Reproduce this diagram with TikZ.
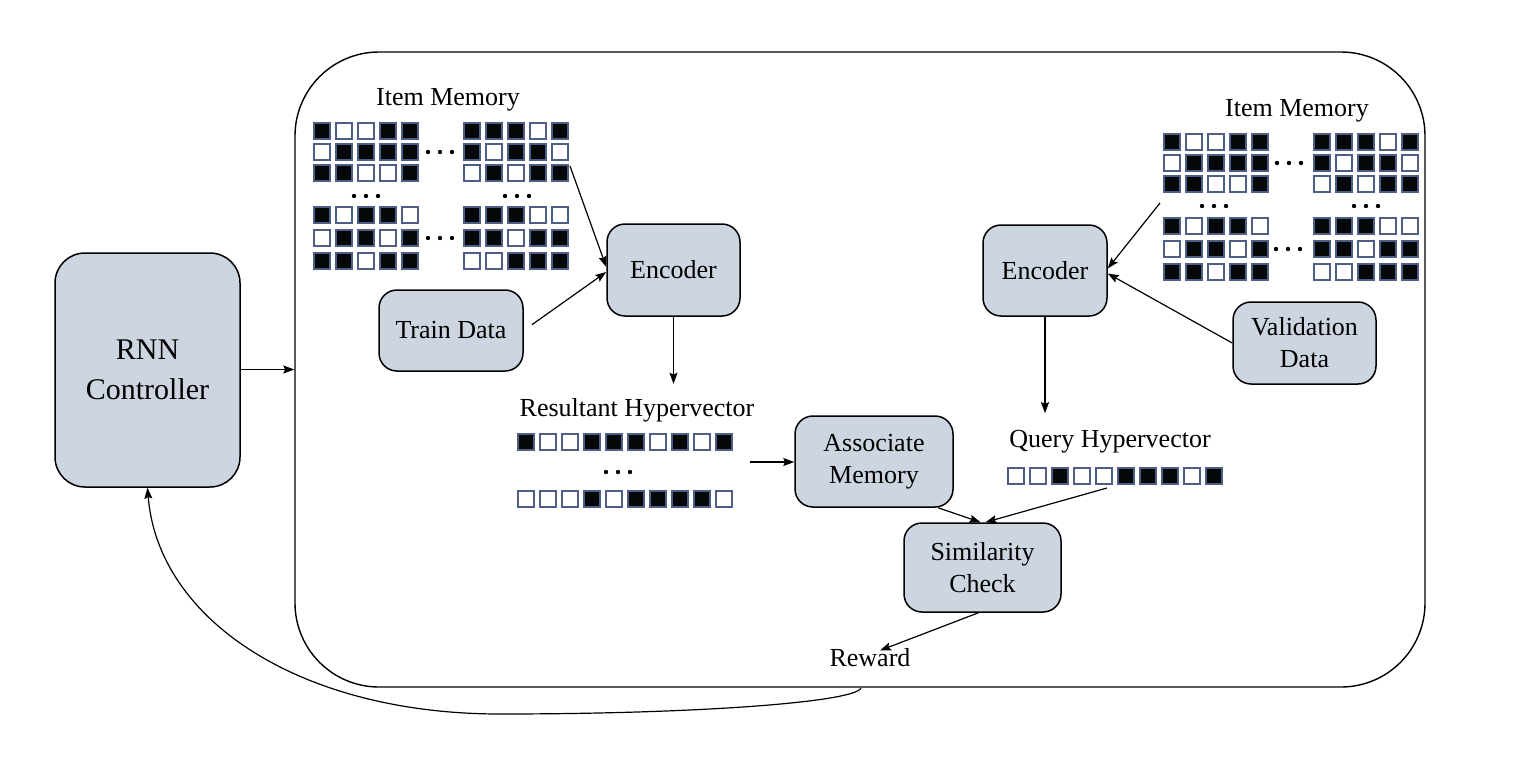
\documentclass[tikz,border=0pt]{standalone}
\usepackage{fontspec}
\setmainfont{Liberation Serif}
\usetikzlibrary{arrows.meta,calc}
\definecolor{boxfill}{RGB}{204,213,224}
\definecolor{celledge}{RGB}{78,94,134}
\definecolor{cellon}{RGB}{5,8,8}
\newcommand{\hvrow}[3]{%
  \foreach \b [count=\i from 0] in {#3} {
    \ifnum\b=1
      \path[cellstyle,fill=cellon] ({#1+22*\i+0.9},{#2+0.9}) rectangle ++(16,16);
    \else
      \path[cellstyle,fill=white] ({#1+22*\i+0.9},{#2+0.9}) rectangle ++(16,16);
    \fi
  }%
}
\newcommand{\threedots}[2]{%
  \foreach \k in {0,1,2} {\fill ({#1+12*\k},{#2}) circle (1.1pt);}%
}
\begin{document}
\begin{tikzpicture}[x=0.5pt,y=-0.5pt,
  cellstyle/.style={draw=celledge,line width=0.9pt},
  box/.style={draw,fill=boxfill,rounded corners=9pt,line width=0.75pt,align=center,
    font=\fontsize{13}{16}\selectfont,inner sep=0pt},
  lbl/.style={inner sep=0pt,font=\fontsize{13}{16}\selectfont},
  arr/.style={-{Stealth[length=5.5pt,width=4pt,inset=0.9pt]},line width=0.6pt}]
\useasboundingbox (0,0) rectangle (1528,778);

% big frame
\node[draw,line width=0.7pt,rounded corners=42pt,minimum width=565pt,minimum height=317.5pt,inner sep=0pt] (big) at (860,369.5) {};

% boxes
\node[box,rounded corners=15pt,minimum width=92.5pt,minimum height=117pt,font=\fontsize{15}{20}\selectfont] (rnn) at (147.5,370) {RNN\\Controller};
\node[box,minimum width=66.5pt,minimum height=46pt] (enc1) at (673.5,270) {Encoder};
\node[box,minimum width=72pt,minimum height=40.5pt] (train) at (451,330.5) {Train Data};
\node[box,minimum width=62pt,minimum height=45.5pt] (enc2) at (1045,270.5) {Encoder};
\node[box,minimum width=71.5pt,minimum height=41pt] (val) at (1304.5,343) {Validation\\Data};
\node[box,minimum width=79pt,minimum height=45.5pt] (assoc) at (874,461.5) {Associate\\Memory};
\node[box,minimum width=78.5pt,minimum height=44.5pt] (sim) at (982.5,567.5) {Similarity\\Check};

% labels
\node[lbl] (im1lbl) at (448,100) {Item Memory};
\node[lbl] (im2lbl) at (1297,111) {Item Memory};
\node[lbl] (res) at (637,410) {Resultant Hypervector};
\node[lbl] (qry) at (1110,442) {Query Hypervector};
\node[lbl] (reward) at (870,658) {Reward};

% left item memory
\hvrow{313}{122}{1,0,0,1,1}
\hvrow{313}{143}{0,1,1,1,1}
\hvrow{313}{164}{1,1,0,0,1}
\hvrow{463}{122}{1,1,1,0,1}
\hvrow{463}{143}{1,0,1,1,0}
\hvrow{463}{164}{0,1,0,1,1}
\hvrow{313}{206}{1,0,1,1,0}
\hvrow{313}{229}{0,1,1,0,1}
\hvrow{313}{252}{1,1,0,1,1}
\hvrow{463}{206}{1,1,1,0,0}
\hvrow{463}{229}{1,1,0,1,1}
\hvrow{463}{252}{0,0,1,1,1}
\threedots{428}{152}
\threedots{428}{238}
\threedots{354}{196}
\threedots{505}{196}

% right item memory
\hvrow{1163}{133}{1,0,0,1,1}
\hvrow{1163}{154}{0,1,1,1,1}
\hvrow{1163}{175}{1,1,0,0,1}
\hvrow{1313}{133}{1,1,1,0,1}
\hvrow{1313}{154}{1,0,1,1,0}
\hvrow{1313}{175}{0,1,0,1,1}
\hvrow{1163}{217}{1,0,1,1,0}
\hvrow{1163}{240}{0,1,1,0,1}
\hvrow{1163}{263}{1,1,0,1,1}
\hvrow{1313}{217}{1,1,1,0,0}
\hvrow{1313}{240}{1,1,0,1,1}
\hvrow{1313}{263}{0,0,1,1,1}
\threedots{1277}{163}
\threedots{1276}{249}
\threedots{1202}{206}
\threedots{1354}{206}

% resultant hypervector
\hvrow{517}{433}{1,0,0,1,1,1,0,1,0,1}
\hvrow{517}{490}{0,0,0,1,0,1,1,1,1,0}
\threedots{606}{472}

% query hypervector
\hvrow{1007}{467}{0,0,1,0,0,1,1,1,0,1}

% free ends
\coordinate (im1) at (570,166);
\coordinate (im2) at (1160,203);
\coordinate (resv) at (750,462);
\coordinate (qv) at (1107,488);
\coordinate (rw) at (861,688);

% connectors
\draw[arr] (rnn.east |- big.west) -- (big.west);
\draw[arr] (im1) -- ([yshift=1.5pt]enc1.west);
\draw[arr,shorten <=5pt] (train.east) -- ([yshift=-1pt]enc1.west);
\draw[arr,shorten >=7pt] (enc1.south) -- (enc1.south |- res.north);
\draw[arr] (resv) -- (resv -| assoc.west);
\draw[arr] (im2) -- ([yshift=1pt]enc2.east);
\draw[arr] (val.west) -- ([yshift=-1.5pt]enc2.east);
\draw[arr,shorten >=8.5pt] (enc2.south) -- (enc2.south |- qry.north);
\draw[arr] ($(assoc.south)+(64,0)$) -- ($(sim.north)+(-2,0)$);
\draw[arr] (qv) -- ($(sim.north)+(3,0)$);
\draw[arr] ($(sim.south)+(-4,0)$) -- ($(reward.north)+(10,2)$);
\draw[arr] (rw) .. controls (855,702) and (700,714) .. (500,714)
  .. controls (300,714) and (158,620) .. (rnn.south);
\end{tikzpicture}
\end{document}
